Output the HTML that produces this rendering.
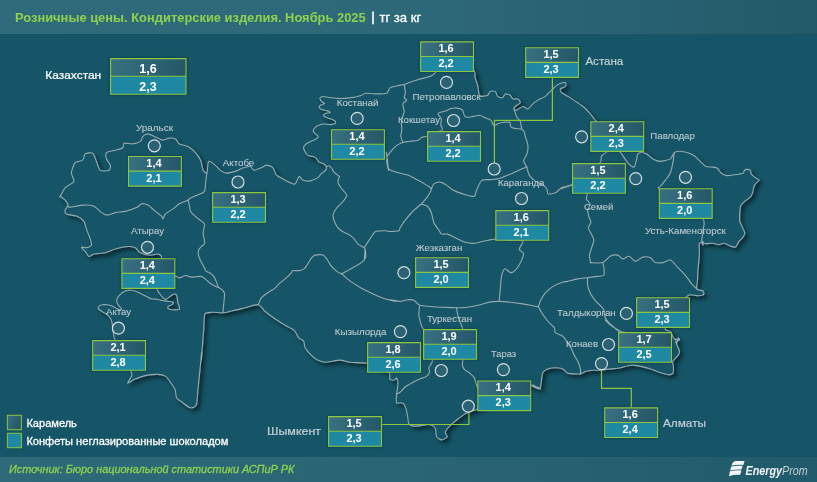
<!DOCTYPE html>
<html><head><meta charset="utf-8">
<style>
html,body{margin:0;padding:0;}
body{width:817px;height:482px;overflow:hidden;background:#155567;font-family:"Liberation Sans",sans-serif;position:relative;}
#hdr{position:absolute;left:0;top:0;width:817px;height:33.5px;background:linear-gradient(90deg,#306b7b 0%,#2d6878 55%,#235a6a 100%);}
#ftr{position:absolute;left:0;top:456.5px;width:817px;height:25.5px;background:linear-gradient(90deg,#2d6979 0%,#2a6575 50%,#215b6b 100%);}
svg{position:absolute;left:0;top:0;will-change:transform;}
</style></head><body>
<div id="hdr"></div><div id="ftr"></div>

<svg width="817" height="482" viewBox="0 0 817 482">
<defs><filter id="sh" x="-5%" y="-5%" width="112%" height="112%"><feGaussianBlur in="SourceAlpha" stdDeviation="2"/><feOffset dx="3" dy="3"/><feComponentTransfer><feFuncA type="linear" slope="0.5"/></feComponentTransfer><feMerge><feMergeNode/><feMergeNode in="SourceGraphic"/></feMerge></filter></defs>
<path d="M60.1 196.6C60.7 195.5 63.4 189.7 65.1 187.8C66.8 185.9 73.1 183.4 73.9 181.5C74.7 179.6 71.2 175.2 71.4 172.8C71.6 170.5 73.7 164.3 75.1 162.7C76.5 161.1 81.4 161.3 82.7 160.2C84.0 159.1 84.0 154.8 85.2 153.9C86.5 153.0 91.3 152.2 92.7 153.2C94.1 154.1 95.6 159.4 96.5 161.5C97.4 163.6 98.6 169.2 100.2 170.3C101.8 171.4 107.7 170.9 109 170.3C110.3 169.7 110.6 166.6 110.3 165.2C110.0 163.8 107.0 160.6 106.5 159C106.0 157.4 105.4 153.8 106.5 152.7C107.6 151.6 113.3 150.8 115.3 150.2C117.3 149.6 121.7 148.6 122.8 147.7C123.9 146.8 122.8 143.7 124.1 143.2C125.3 142.7 130.8 144.1 132.8 143.9C134.8 143.7 139.1 142.3 140.4 141.4C141.7 140.5 142.0 137.3 142.9 136.4C143.8 135.5 146.5 133.9 147.9 133.9C149.3 133.9 152.3 135.6 154.2 136.4C156.1 137.2 161.0 139.9 162.9 140.1C164.8 140.3 167.6 138.2 169.2 138.1C170.8 137.9 174.2 138.2 175.5 138.9C176.8 139.6 177.7 143.0 179.3 143.9C180.9 144.8 186.1 145.5 188 146.4C189.9 147.3 192.7 149.7 194.3 151.4C195.9 153.1 199.5 157.8 200.6 160.2C201.7 162.6 202.3 168.7 203.1 170.3C203.9 171.9 206.2 173.9 206.9 172.8C207.6 171.7 207.6 162.5 208.6 161.5C209.6 160.5 213.7 164.0 215.1 165.1C216.5 166.2 218.7 169.1 220.1 170.1C221.5 171.1 224.4 172.9 226.3 173.1C228.2 173.3 233.1 172.0 235.1 171.4C237.1 170.8 240.8 168.7 242.7 168.1C244.6 167.5 248.8 166.1 250.2 166.3C251.6 166.6 252.5 169.9 253.9 170.1C255.3 170.3 259.9 168.2 261.5 167.6C263.1 167.0 265.1 165.1 266.5 165.1C267.9 165.1 271.6 166.3 272.8 167.6C274.1 168.8 275.2 173.7 276.5 175.1C277.8 176.5 281.1 178.0 282.8 178.9C284.5 179.8 288.7 182.1 290.3 182.7C291.9 183.3 294.2 184.7 295.3 183.9C296.4 183.1 298.2 176.9 299.1 176.4C300.1 175.9 301.5 179.5 302.9 180.1C304.3 180.7 308.5 181.2 310.4 180.9C312.3 180.6 316.6 178.4 317.9 177.6C319.2 176.8 319.9 175.0 320.8 174.1C321.8 173.2 324.8 171.3 325.5 170.4C326.2 169.5 326.6 167.4 326.4 166.6C326.2 165.8 324.5 164.4 323.6 163.8C322.7 163.2 319.9 162.7 319 162C318.1 161.3 317.0 158.9 316.2 158.2C315.4 157.5 313.4 156.8 312.4 156.4C311.3 156.1 308.7 156.0 307.8 155.4C306.9 154.8 305.5 152.7 305 151.7C304.5 150.7 303.4 148.5 303.5 147.6C303.6 146.7 305.0 145.0 305.9 144.2C306.8 143.4 309.4 142.0 310.6 141.4C311.8 140.8 314.2 140.1 315.2 139.5C316.2 138.9 318.3 137.3 318.4 136.7C318.5 136.1 316.8 135.2 316.2 134.5C315.6 133.8 313.6 132.3 313.4 131.5C313.2 130.7 313.7 129.1 314.3 128.3C314.9 127.6 316.8 126.0 318 125.5C319.2 125.0 322.1 124.1 323.6 124C325.1 123.9 328.7 124.7 330.2 124.6C331.7 124.5 334.8 123.8 335.4 123.3C336.0 122.8 335.4 121.3 334.9 120.8C334.4 120.3 332.3 119.5 331.1 119C329.9 118.5 326.5 117.6 325.5 117.1C324.5 116.6 323.3 115.7 323.3 115.2C323.3 114.7 324.6 113.8 325.5 113.4C326.4 113.1 330.0 112.7 330.2 112.4C330.4 112.1 328.4 111.2 327.4 110.9C326.3 110.6 322.9 110.1 321.8 109.6C320.8 109.1 319.1 107.8 319 107.2C318.9 106.6 320.1 105.5 320.8 105C321.5 104.5 324.5 103.9 324.6 103.5C324.7 103.1 322.4 102.2 321.8 101.6C321.2 101.0 319.8 99.0 319.9 98.4C320.0 97.8 321.5 96.6 322.7 96.5C323.9 96.4 327.3 97.3 329.3 97.5C331.3 97.7 336.0 98.4 338.6 98.4C341.2 98.5 347.0 98.2 349.8 97.9C352.6 97.6 359.1 96.2 361 95.6C362.9 95.0 363.5 93.4 365.3 93.2C367.1 93.0 372.6 93.9 375.3 93.9C378.0 93.9 384.7 94.0 386.6 93.2C388.5 92.4 388.7 88.6 390.4 87.6C392.1 86.6 398.7 85.5 400.4 85.1C402.1 84.7 403.1 84.9 404.2 84.6C405.3 84.3 407.2 83.3 409.2 82.6C411.2 81.9 417.8 79.7 420.5 78.9C423.2 78.1 428.6 77.1 430.5 76.3C432.4 75.5 434.2 74.0 435.5 72.6C436.8 71.2 436.8 66.4 440.6 65.1C444.4 63.8 461.4 61.7 465.6 62.5C469.8 63.3 473.2 69.4 474.4 71.3C475.6 73.2 474.7 75.9 475.1 77.6C475.5 79.3 477.1 83.1 477.6 85.1C478.1 87.1 478.6 92.5 478.9 93.9C479.2 95.3 479.0 96.2 480.1 96.4C481.2 96.6 486.4 95.8 487.6 95.2C488.9 94.6 489.2 91.9 490.1 91.4C491.1 90.9 494.2 90.8 495.2 91.4C496.1 92.0 496.8 95.6 497.7 96.4C498.6 97.2 501.8 98.0 502.7 97.7C503.6 97.4 504.3 94.2 505.2 93.9C506.1 93.6 509.3 94.6 510.2 95.2C511.1 95.8 511.8 98.4 512.7 98.9C513.6 99.4 516.8 98.4 517.7 98.9C518.7 99.4 520.6 101.8 520.3 102.7C520.0 103.7 516.0 105.7 515.2 106.5C514.4 107.3 513.8 108.5 514 109C514.2 109.5 515.4 110.5 516.5 110.2C517.6 109.9 521.4 106.7 522.8 106.5C524.2 106.3 526.5 109.3 527.8 109C529.0 108.7 531.5 105.0 532.8 103.9C534.0 102.8 536.2 101.1 537.8 100.2C539.4 99.3 543.7 97.5 545.3 96.4C546.9 95.3 549.1 92.7 550.4 91.4C551.7 90.2 554.3 87.3 555.4 86.4C556.5 85.5 557.9 84.4 559.1 83.9C560.4 83.4 564.6 82.3 565.4 82.6C566.2 82.9 566.0 85.6 565.4 86.4C564.8 87.2 560.9 88.1 560.4 88.9C559.9 89.7 560.8 91.8 561.7 92.7C562.6 93.6 566.2 95.3 567.9 96.4C569.6 97.5 573.6 100.1 575.5 101.4C577.4 102.7 581.3 105.1 583 106.5C584.7 107.9 587.9 111.1 589.3 112.7C590.7 114.3 593.4 117.9 594.3 119C595.2 120.1 594.8 120.1 596.8 121.5C598.8 122.9 605.2 127.7 610 130C614.8 132.3 630.9 137.2 635 140C639.1 142.8 641.3 150.4 642.8 152.1C644.2 153.8 645.4 153.0 646.6 153.8C647.9 154.7 651.1 158.0 652.8 158.9C654.5 159.8 658.2 161.4 660.4 161.4C662.6 161.4 668.7 160.0 670.4 158.9C672.1 157.8 673.0 153.5 674.2 152.6C675.5 151.7 678.4 151.2 680.4 151.3C682.4 151.4 688.1 152.7 690 153.4C691.9 154.1 694.3 155.7 695.7 156.8C697.1 158.0 700.1 161.4 701.4 162.6C702.7 163.8 704.6 165.8 706 166.4C707.4 167.0 711.4 166.9 712.8 167.1C714.2 167.3 716.4 167.6 717.4 168.3C718.4 169.0 719.7 171.9 720.8 172.8C721.9 173.7 724.6 175.4 726.5 175.6C728.4 175.8 733.6 175.0 735.7 174.7C737.8 174.4 741.9 173.8 743 173.3C744.1 172.8 743.8 171.0 744.3 170.5C744.8 170.0 746.2 169.4 747 169.4C747.8 169.4 750.0 169.9 750.5 170.5C751.0 171.1 750.6 173.1 751.2 174C751.8 174.9 754.0 176.6 755 177.4C756.0 178.2 759.1 179.4 759.2 180.1C759.4 180.8 756.9 182.3 756.2 183.1C755.5 183.9 754.3 185.4 753.9 186.5C753.5 187.6 753.2 190.9 752.8 192.2C752.4 193.5 751.5 195.7 750.5 196.8C749.5 198.0 746.0 200.3 744.8 201.4C743.6 202.5 741.3 204.6 740.7 205.9C740.1 207.2 739.9 209.7 739.8 211.6C739.7 213.5 739.5 218.8 739.8 220.8C740.1 222.8 741.9 226.0 742.5 227.6C743.1 229.2 744.8 232.0 744.8 233.3C744.8 234.6 743.2 236.9 742.5 237.9C741.8 238.9 739.9 240.2 739 241.3C738.1 242.4 736.8 246.4 735.7 247C734.6 247.6 731.4 246.4 730 245.9C728.6 245.4 725.6 243.3 724.2 243.2C722.8 243.0 719.9 244.7 718.5 244.7C717.1 244.7 714.4 243.3 712.8 243.2C711.2 243.1 707.4 243.7 706 243.6C704.6 243.5 702.2 242.5 701.4 242.5C700.6 242.5 699.6 242.2 699.3 243.8C699.0 245.4 699.5 251.8 699.3 255.1C699.1 258.4 698.2 267.0 698 270.1C697.8 273.2 697.6 277.8 697.5 280.2C697.4 282.6 696.1 287.6 696.8 289C697.5 290.4 702.2 290.3 703 291C703.8 291.7 704.1 294.1 703.5 294.7C702.9 295.3 699.6 295.7 698 295.7C696.4 295.7 691.9 294.6 690.5 294.7C689.1 294.8 688.3 295.2 686.7 296.5C685.1 297.8 680.6 301.4 677.9 305.3C675.2 309.2 666.3 324.6 665.4 327.9C664.5 331.2 669.3 330.2 670.4 331.6C671.5 333.0 673.3 338.2 674.2 339.1C675.1 340.0 677.6 338.6 677.9 339.1C678.2 339.6 676.7 343.0 676.7 342.9C676.7 342.8 677.9 338.5 678.2 338.1C678.6 337.8 679.8 339.7 679.5 340.1C679.2 340.5 676.0 340.7 675.7 341.3C675.4 341.9 676.5 343.8 677 345.1C677.5 346.4 679.4 350.1 679.5 351.4C679.6 352.6 679.1 353.9 678.2 355.1C677.4 356.4 673.3 360.1 672.7 361.4C672.1 362.7 673.1 363.8 673.2 365.2C673.3 366.6 673.8 371.5 673.2 372.7C672.6 373.9 669.8 374.7 668.2 374.7C666.6 374.7 662.9 373.4 660.7 372.7C658.5 372.0 653.1 369.7 650.6 368.9C648.1 368.1 643.1 366.9 640.6 366.4C638.1 365.9 633.1 365.0 630.6 365.2C628.1 365.4 623.0 367.2 620.5 367.7C618.0 368.2 613.0 368.6 610.5 368.9C608.0 369.2 602.6 370.0 600.4 370.2C598.2 370.4 594.8 370.1 592.9 370.2C591.0 370.3 587.0 370.9 585.4 371.4C583.8 371.9 581.7 373.6 580.4 373.9C579.1 374.2 576.9 374.0 575.3 373.9C573.7 373.8 569.4 373.8 567.8 373.2C566.2 372.6 564.4 369.6 562.8 368.9C561.2 368.2 557.2 367.7 555.3 367.7C553.4 367.7 549.3 368.3 547.7 368.9C546.1 369.5 543.5 371.3 542.7 372.7C541.9 374.1 541.8 378.2 541.5 380.2C541.2 382.2 540.5 388.1 540.2 389C539.9 389.9 540.1 388.1 539 387.7C537.9 387.3 531.4 385.6 531.4 385.7C531.4 385.8 538.1 388.7 538.6 388.8C539.1 388.9 536.1 386.6 535.1 386.2C534.1 385.8 534.6 384.2 530.8 385.3C527.0 386.4 511.3 391.9 504.6 394.9C497.9 397.9 481.1 407.2 477.2 409.2C473.3 411.2 474.3 410.2 473.2 410.6C472.1 411.0 469.2 411.8 468 412.3C466.8 412.8 464.9 414.0 463.6 414.9C462.3 415.8 458.9 418.2 457.5 419.3C456.1 420.4 453.5 422.5 452.3 423.6C451.1 424.7 448.8 426.9 447.9 428C447.0 429.1 445.4 431.3 445.3 432.4C445.2 433.5 447.5 435.8 447.1 436.7C446.7 437.6 443.1 439.9 441.8 439.9C440.5 439.9 437.4 438.0 436.6 436.7C435.8 435.4 436.1 431.1 435.7 429.7C435.3 428.3 434.1 426.5 433.1 425.9C432.1 425.2 429.6 424.5 427.9 424.5C426.2 424.5 421.2 425.7 419.2 425.9C417.2 426.1 413.5 426.2 412.2 425.9C410.9 425.6 409.2 424.7 408.7 423.6C408.1 422.6 408.1 419.4 407.8 417.5C407.5 415.6 406.6 410.5 406.1 408.8C405.6 407.1 404.3 404.4 403.5 403.6C402.7 402.8 400.9 402.8 400 402.7C399.1 402.6 397.0 403.9 396.6 402.8C396.2 401.7 396.4 396.2 396.6 394C396.8 391.8 397.9 387.2 397.9 385.2C397.9 383.2 397.1 378.8 396.6 378.2C396.1 377.6 395.0 380.1 394.1 380.2C393.2 380.3 390.4 379.9 389.8 379C389.2 378.1 390.9 374.3 389.1 372.7C387.3 371.1 378.0 367.6 375.3 366.4C372.6 365.2 370.3 363.7 367.2 363.2C364.1 362.7 353.6 362.6 350.2 362.2C346.8 361.8 343.2 360.1 340.1 360.1C337.0 360.1 327.9 362.2 325.1 362.2C322.3 362.2 319.5 361.1 317.6 360.1C315.7 359.1 311.6 355.5 310 353.9C308.4 352.3 305.8 349.2 305 347.6C304.2 346.0 304.4 342.4 303.8 341.3C303.2 340.2 300.7 339.4 300 338.8C299.3 338.2 298.6 337.7 297.9 336.6C297.2 335.5 295.7 331.7 294.1 330.3C292.5 328.9 287.7 326.7 285.3 325.3C282.9 323.9 277.8 320.7 275.3 319C272.8 317.3 267.3 313.3 265.2 311.5C263.1 309.7 260.7 305.2 258.2 304.7C255.7 304.2 248.4 306.9 245.2 307.7C242.0 308.5 235.4 310.2 232.6 310.8C229.8 311.4 225.6 312.6 223.1 312.8C220.6 313.0 214.8 312.2 212.5 312.3C210.2 312.4 206.1 312.1 205 314C203.9 315.9 204.1 323.9 203.8 327.8C203.5 331.7 202.8 341.4 202.5 345.4C202.2 349.4 201.4 359.0 201.3 359.9C201.2 360.8 201.8 351.2 201.6 352.5C201.4 353.8 200.4 365.4 199.9 370.1C199.4 374.8 198.3 386.0 197.9 390.2C197.5 394.4 197.1 401.9 196.6 404C196.1 406.1 195.0 406.8 194.1 407.2C193.2 407.6 190.5 407.8 189.1 407.2C187.7 406.6 184.4 403.9 182.8 402.7C181.2 401.5 177.4 399.3 176.5 397.7C175.6 396.1 176.0 392.1 175.3 390.2C174.6 388.3 172.0 384.4 170.8 382.7C169.6 381.0 167.3 377.4 165.7 376.4C164.1 375.4 160.3 374.5 157.7 374.4C155.1 374.3 148.2 375.0 145.2 375.6C142.2 376.2 136.1 378.7 133.9 379.6C131.7 380.6 127.9 383.6 127.6 383.2C127.3 382.8 131.0 378.0 131.4 376.4C131.8 374.8 132.7 375.2 130.6 370.6C128.5 366.0 117.0 344.0 114.9 339.5C112.8 335.0 113.9 336.0 113.7 334.8C113.5 333.6 113.2 331.1 113 329.8C112.8 328.6 112.6 326.0 112.4 324.8C112.2 323.6 111.6 320.9 111.2 319.9C110.8 318.9 109.8 317.4 109.3 316.7C108.8 316.0 107.5 314.7 106.8 314.2C106.1 313.7 104.5 313.1 103.7 312.6C102.9 312.1 101.3 311.1 100.6 310.5C99.9 309.9 98.3 308.6 98.1 308C97.9 307.4 98.8 306.3 99.3 305.9C99.8 305.5 101.6 304.8 102.5 304.7C103.4 304.6 105.8 304.6 106.8 304.7C107.8 304.8 109.6 305.2 110.5 305.5C111.4 305.8 113.0 306.4 113.7 306.8C114.4 307.2 115.5 308.0 116.2 308.4C116.9 308.8 118.6 309.5 119.3 309.6C120.0 309.7 121.7 309.7 121.8 309.3C121.9 308.9 120.5 307.5 119.9 306.8C119.4 306.1 117.8 304.5 117.4 303.7C117.0 302.9 116.7 301.4 116.8 300.5C116.9 299.6 117.5 297.6 118 296.8C118.5 296.0 119.8 294.9 120.5 294.3C121.2 293.7 122.8 292.3 123.6 291.8C124.4 291.3 125.8 290.8 126.7 290.6C127.6 290.4 130.1 290.1 131.1 290.2C132.1 290.2 133.7 290.6 134.8 291C135.9 291.4 138.4 292.5 139.8 293.1C141.2 293.8 144.6 295.5 146 296.2C147.4 296.9 149.6 298.3 151 298.7C152.4 299.1 155.8 299.1 157.2 299.3C158.6 299.5 160.9 300.3 162.2 300.5C163.4 300.7 165.9 301.0 167.2 301.2C168.4 301.4 171.4 301.6 172.2 301.8C173.0 302.0 173.5 302.6 173.4 303C173.3 303.4 172.2 304.5 171.6 304.9C171.0 305.3 169.0 305.8 168.5 306.2C168.0 306.6 167.7 307.6 167.8 308C168.0 308.4 168.8 309.1 169.7 309.3C170.6 309.5 173.5 309.9 174.7 309.9C175.9 309.9 178.4 310.0 179 309.6C179.6 309.2 179.6 307.7 179.4 306.8C179.2 305.9 178.1 303.6 177.8 302.4C177.5 301.2 177.4 298.4 177.2 297.4C177.0 296.4 176.4 294.7 175.9 294.3C175.4 293.9 174.2 294.0 173.4 294.3C172.6 294.6 170.6 296.2 169.7 296.8C168.8 297.4 166.8 299.1 166 299.3C165.2 299.5 164.3 298.8 163.5 298.1C162.7 297.4 160.5 294.8 159.7 293.7C158.9 292.6 157.4 291.6 157.2 289.3C157.0 287.0 157.4 278.9 158 275C158.6 271.1 161.7 260.4 161.7 257.8C161.7 255.2 159.3 254.3 157.9 254C156.5 253.7 152.6 255.5 150.4 255.3C148.2 255.2 142.3 253.8 140.4 252.8C138.5 251.9 136.9 248.5 135.3 247.7C133.7 246.9 130.3 246.3 127.8 246.5C125.3 246.7 118.1 248.2 115.3 249C112.5 249.8 107.9 252.2 105.2 252.8C102.5 253.4 95.9 253.5 93.9 254C91.9 254.5 90.0 256.8 88.9 256.5C87.8 256.2 86.1 252.7 85.2 251.5C84.3 250.3 81.2 247.7 81.4 247.2C81.6 246.7 85.2 247.9 86.4 247.7C87.7 247.4 90.9 246.3 91.4 245.2C91.9 244.1 90.8 241.0 90.2 239C89.6 237.0 87.2 231.1 86.4 228.9C85.6 226.7 85.0 223.0 83.9 221.4C82.8 219.8 79.8 217.3 77.6 216.4C75.4 215.5 67.9 214.7 66.3 213.9C64.7 213.1 64.9 211.2 65.1 210.1C65.3 209.0 68.1 206.3 68.1 205.1C68.1 203.8 66.1 201.2 65.1 200.1C64.1 199.0 60.7 196.7 60.1 196.3C59.5 195.9 59.5 197.7 60.1 196.6Z" fill="#155567" stroke="#97aaaf" stroke-width="1.1" stroke-linejoin="round" filter="url(#sh)"/>
<g fill="none" stroke="#97aaaf" stroke-width="1.1" stroke-linejoin="round" stroke-linecap="round">
<path d="M68.1 206.3C68.3 206.4 68.1 207.2 70.1 207.1C72.1 206.9 80.9 205.2 83.9 205.1C86.9 205.0 91.7 205.4 93.9 206.3C96.1 207.2 99.8 211.5 101.5 212.6C103.2 213.7 106.0 215.1 107.7 215.1C109.4 215.1 113.1 213.1 115.3 212.6C117.5 212.1 122.6 212.0 125.3 211.4C128.0 210.8 134.6 208.5 136.6 207.6C138.6 206.7 140.2 204.1 141.6 203.8C143.0 203.5 146.2 204.2 147.9 205.1C149.6 206.0 153.7 210.0 155.4 211.4C157.1 212.8 160.8 215.5 161.7 216.4C162.6 217.3 162.4 219.2 162.9 218.9C163.4 218.6 164.2 215.2 165.5 213.9C166.8 212.7 171.3 210.2 173 208.9C174.7 207.6 177.4 204.9 179.3 203.8C181.2 202.7 186.9 200.6 188 200.1"/>
<path d="M206.9 172.8C206.7 174.1 205.9 180.5 205.6 182.8C205.3 185.2 205.3 190.1 204.4 191.6C203.5 193.1 199.8 194.0 198.1 194.8C196.4 195.6 191.9 197.2 190.6 197.9C189.3 198.6 188.3 200.1 188 200.4"/>
<path d="M188 200.4C188.2 201.0 189.0 203.7 189.3 205.1C189.6 206.5 189.7 209.8 190.6 211.4C191.5 213.0 195.1 216.0 196.8 217.6C198.5 219.2 203.6 222.0 204.4 223.9C205.2 225.8 203.1 230.7 203.1 232.7C203.1 234.7 204.3 239.3 204.4 240.2C204.5 241.1 204.2 239.6 204.2 240C204.2 240.4 205.0 242.8 204.6 243.7C204.2 244.5 201.8 246.0 201.1 246.8C200.3 247.6 198.9 249.0 198.6 250C198.3 251.0 198.2 253.6 198.4 254.9C198.6 256.2 199.8 259.1 200.5 260.5C201.2 261.9 202.9 264.9 203.6 266.2C204.3 267.5 205.3 270.2 206.1 271.1C206.9 272.0 209.0 272.4 209.9 273C210.8 273.6 212.8 275.1 213.6 276.1C214.4 277.1 215.5 279.7 216.1 281.1C216.7 282.5 217.8 286.2 218.6 287.3C219.4 288.4 221.6 289.0 222.3 289.8C223.0 290.6 224.3 292.3 224.5 293.5C224.7 294.7 224.3 297.9 224.2 299.5C224.1 301.1 223.7 304.3 223.5 306C223.3 307.7 223.1 311.9 223 312.8"/>
<path d="M160 280C161.9 279.5 172.7 276.4 175 276.1C177.3 275.9 177.8 277.9 178.7 278C179.6 278.1 181.6 277.0 182.5 276.7C183.4 276.4 185.1 275.4 186.2 275.5C187.3 275.6 189.9 277.0 191.2 277.1C192.4 277.2 195.0 276.8 196.2 276.7C197.4 276.6 200.0 276.2 201.1 276.4C202.2 276.6 203.8 277.8 204.9 278.6C206.0 279.4 208.7 282.1 209.9 283C211.1 283.9 213.7 285.5 214.8 286.1C215.9 286.7 218.1 287.4 218.6 287.6"/>
<path d="M326.4 166.6C326.8 166.5 328.5 165.5 329.2 165.7C329.9 165.9 331.4 167.7 332 168.5C332.6 169.3 333.1 171.2 334 172.2C334.9 173.2 338.6 175.9 339.3 176.4C340.0 176.9 339.5 175.6 339.3 176.4C339.1 177.2 337.7 181.1 338 182.7C338.3 184.3 340.7 187.3 341.8 188.9C342.9 190.5 346.7 193.6 346.8 195.2C346.9 196.8 344.2 199.9 343 201.5C341.8 203.1 338.1 206.0 336.8 207.7C335.6 209.4 333.2 213.2 333 215.3C332.8 217.4 334.6 222.2 335.5 224.1C336.4 226.0 338.9 229.1 340.5 230.3C342.1 231.6 346.4 233.2 348 234.1C349.6 235.0 351.8 236.7 353.1 237.9C354.4 239.2 356.7 242.8 358.1 244.1C359.5 245.3 363.5 246.8 364.4 247.9C365.3 249.0 365.6 251.4 365.6 252.9C365.6 254.4 364.5 260.4 364.4 259.9C364.3 259.4 365.0 249.1 365.1 248.8C365.2 248.5 366.2 255.8 365.6 257.6C365.0 259.4 362.5 261.7 360.6 263.1C358.7 264.5 353.0 267.5 350.6 268.9C348.2 270.2 342.9 273.3 341.8 273.9"/>
<path d="M364.4 247.4C365.2 246.2 369.2 239.9 370.6 237.9C372.0 235.9 373.7 232.5 375.6 231.6C377.5 230.7 383.9 230.8 385.7 230.8C387.5 230.8 388.4 231.5 390 231.5C391.6 231.5 397.5 231.3 398.8 230.8C400.1 230.3 399.3 229.1 400.1 227.8C400.9 226.5 403.5 222.3 405.1 220.3C406.7 218.3 410.6 213.6 412.6 211.5C414.6 209.4 420.3 204.8 421.4 203.9"/>
<path d="M258.2 304.7C258.6 303.8 260.3 299.2 261.5 297.7C262.7 296.2 266.1 293.8 267.7 292.7C269.3 291.6 272.4 290.1 274 288.9C275.6 287.6 278.7 284.1 280.3 282.7C281.9 281.3 285.2 278.9 286.6 277.6C288.0 276.3 290.8 273.5 291.6 272.6C292.4 271.7 291.9 270.9 292.8 270.6C293.7 270.4 297.7 270.8 299.1 270.6C300.5 270.4 303.0 269.8 304.1 268.9C305.2 268.0 306.9 265.2 307.9 263.8C308.8 262.4 310.8 258.7 311.7 257.6C312.6 256.5 314.0 255.4 315.4 255.1C316.8 254.8 321.5 254.6 322.9 255.1C324.3 255.6 325.8 257.6 326.7 258.8C327.6 260.1 329.2 263.5 330.5 265.1C331.8 266.7 335.4 270.3 336.8 271.4C338.2 272.5 341.2 273.6 341.8 273.9"/>
<path d="M341.8 273.9C342.9 274.8 348.2 279.7 350.6 281.4C353.0 283.1 357.8 286.1 360.6 287.7C363.4 289.3 370.0 292.5 373.1 293.9C376.2 295.3 382.9 298.1 385.7 299C388.5 299.9 395.2 301.4 395.7 301.5C396.2 301.6 389.4 299.7 390 299.7C390.6 299.7 397.9 301.4 400.1 301.4C402.3 301.4 405.9 299.8 407.6 299.7C409.3 299.6 412.4 299.5 413.9 300.2C415.4 300.9 417.6 304.4 419.6 305.2C421.6 306.0 427.3 306.2 430.2 306.5C433.1 306.8 439.4 307.1 442.7 307.2C446.0 307.3 453.4 307.7 456.5 307.7C459.6 307.7 464.8 307.6 467.8 307.2C470.8 306.8 477.6 305.4 480.4 304.7C483.2 304.0 488.0 302.3 490.4 301.9C492.8 301.5 496.7 301.4 499.2 301.4C501.7 301.4 507.5 301.9 510.5 302.2C513.5 302.5 520.2 303.5 523 303.9C525.8 304.3 531.2 305.4 533.1 305.7C535.0 306.0 537.2 307.2 538.1 306.5C539.0 305.8 539.7 301.9 540.6 300.2C541.5 298.5 544.0 294.4 545.6 292.7C547.2 291.0 550.9 287.7 553.1 286.4C555.3 285.1 561.4 282.7 563.2 282.1C565.0 281.5 565.7 281.8 567.5 281.4C569.3 281.0 575.1 279.4 577.6 278.9C580.1 278.4 585.1 278.0 587.6 277.7C590.1 277.4 595.6 276.7 597.6 276.4C599.6 276.1 603.1 276.3 603.9 275.2C604.7 274.1 604.0 269.2 603.9 267.6C603.8 266.0 602.9 263.2 602.7 262.6"/>
<path d="M419.6 305.2C419.5 306.4 418.7 312.7 418.9 315.2C419.1 317.7 420.8 323.4 421.4 325.3C422.0 327.2 422.8 327.8 423.9 330.3C425.0 332.8 428.9 341.3 430 345C431.1 348.7 432.1 357.7 432.3 360C432.5 362.3 431.8 362.5 431.4 363.5C431.0 364.5 429.0 366.7 428.8 367.8C428.6 368.9 429.9 371.1 429.6 372.2C429.3 373.3 427.5 375.7 426.2 376.6C424.9 377.5 420.9 378.4 419.2 379.2C417.4 380.0 413.9 381.7 412.2 382.7C410.4 383.7 406.7 385.8 405.2 387C403.7 388.2 401.1 391.4 400 392.3C398.9 393.2 397.0 393.8 396.6 394"/>
<path d="M456.5 307.7C456.7 308.6 457.2 313.0 457.8 315.2C458.4 317.4 460.9 323.5 461.5 325.3C462.1 327.1 462.6 327.3 462.8 329.8C463.0 332.3 463.0 341.2 463 345C463.0 348.8 462.9 357.5 462.8 360C462.7 362.5 462.2 364.0 462.4 365.2C462.6 366.4 463.6 368.6 464.5 369.6C465.4 370.6 468.5 372.1 469.7 373.1C470.9 374.1 473.3 376.2 474.1 377.4C474.9 378.6 475.4 381.5 475.8 382.7C476.2 383.9 476.4 385.5 477.2 387C478.0 388.5 481.3 393.9 481.9 394.9"/>
<path d="M538.1 306.5C538.6 307.3 540.5 310.8 541.8 312.7C543.0 314.6 546.5 319.6 548.1 321.5C549.7 323.4 553.5 326.4 554.4 327.8C555.3 329.2 554.2 331.4 555.3 332.5C556.3 333.6 561.4 335.2 562.8 336.3C564.2 337.4 565.5 339.7 566.6 341.3C567.7 342.9 570.7 347.2 571.6 348.9C572.5 350.6 573.3 353.5 574.1 355.1C574.9 356.7 577.1 359.7 577.9 361.4C578.7 363.1 580.1 367.3 580.4 368.9C580.7 370.5 580.4 373.3 580.4 373.9"/>
<path d="M587.6 277.7C587.6 278.6 587.3 283.3 587.6 285.2C587.9 287.1 589.2 290.8 590.1 292.7C591.0 294.6 593.9 298.7 595.1 300.3C596.4 301.9 599.0 304.1 600.1 305.3C601.2 306.6 603.3 308.7 603.9 310.3C604.5 311.9 604.4 316.1 605.2 317.8C606.0 319.5 608.8 322.7 610.2 324.1C611.6 325.5 615.4 328.2 616.5 329.1C617.6 330.0 620.4 332.7 619 331.6C617.6 330.5 606.6 320.8 605.5 320C604.4 319.2 608.9 323.8 610.5 325C612.1 326.2 616.4 329.1 618 330C619.6 330.9 620.7 331.4 623.5 332C626.3 332.6 638.5 334.7 640.6 335.1"/>
<path d="M590.1 262.6C591.7 262.6 600.2 263.4 602.7 262.6C605.2 261.8 608.3 257.2 610.2 256.3C612.1 255.4 616.1 254.8 617.7 255.1C619.3 255.4 621.3 258.8 622.7 258.9C624.1 259.0 627.4 256.0 629 256.3C630.6 256.6 633.6 261.3 635.3 261.4C637.0 261.5 640.9 257.6 642.8 257.1C644.7 256.6 648.7 256.9 650.3 257.6C651.9 258.3 653.7 262.0 655.3 262.6C656.9 263.2 661.0 262.9 662.9 262.6C664.8 262.3 668.5 259.5 670.4 260.1C672.3 260.7 676.3 266.0 677.9 267.6C679.5 269.2 681.6 271.3 682.9 272.7C684.2 274.1 686.9 277.5 688 278.9C689.1 280.3 690.6 282.6 691.7 283.9C692.8 285.2 696.2 288.4 696.8 289"/>
<path d="M572.5 183.9C573.8 184.5 580.8 187.7 582.6 189C584.4 190.3 586.6 192.8 587.1 194C587.6 195.2 585.9 197.8 586.3 199C586.7 200.2 589.9 202.6 590.1 204C590.3 205.4 587.7 208.6 587.6 210.2C587.5 211.8 588.6 215.5 589 217C589.4 218.5 591.1 221.0 591 222.3C590.9 223.6 588.3 226.2 588.4 227.7C588.5 229.2 590.9 233.0 591.6 234.5C592.3 236.0 593.8 238.2 593.8 239.9C593.8 241.6 592.1 246.2 591.6 248C591.1 249.8 589.7 253.0 589.5 254.7C589.3 256.4 590.1 260.4 590.3 261.4C590.5 262.4 591.3 262.5 591.4 262.6"/>
<path d="M526.8 167.1C527.1 168.1 528.2 173.3 529.3 175.1C530.4 176.9 533.9 180.2 535.6 181.4C537.3 182.7 541.7 184.2 543.1 185.1C544.5 186.0 546.3 187.8 546.9 188.9C547.5 190.0 547.0 193.4 548.1 193.9C549.2 194.4 553.9 193.5 555.6 192.7C557.3 191.9 559.9 188.5 561.9 187.6C563.9 186.7 572.2 184.9 572 185.1C571.8 185.3 560.6 188.8 560 189C559.4 189.2 565.9 187.1 567.5 186.5C569.1 185.9 571.9 184.2 572.5 183.9"/>
<path d="M572.5 183.9C574.1 182.5 581.6 175.4 585.1 172.7C588.6 170.0 598.1 164.6 600.1 162.6C602.1 160.6 600.6 157.6 601.4 156.3C602.2 155.0 604.8 153.2 606.4 152.1C608.0 151.0 612.2 147.6 613.9 147.6C615.6 147.6 618.5 150.2 620.2 152.1C621.9 154.0 626.0 160.7 627.7 162.6C629.4 164.5 632.9 167.4 634 167.1C635.1 166.8 636.0 161.8 636.5 160.1C637.0 158.4 637.0 154.8 637.8 153.8C638.6 152.8 642.2 152.3 642.8 152.1"/>
<path d="M674.2 152.6C674.0 153.8 673.4 160.1 672.9 162.6C672.4 165.1 671.3 170.5 670.4 172.7C669.5 174.9 666.6 178.5 665.4 180.2C664.1 181.9 661.2 185.4 660.4 186.5C659.6 187.6 656.6 186.7 659.1 189C661.6 191.3 674.9 201.5 680.4 205.3C685.9 209.1 700.2 216.0 703 219.1C705.8 222.2 703.1 227.7 703 230.4C702.9 233.1 701.8 238.5 701.8 240.4C701.8 242.3 702.9 245.3 703 245.4C703.1 245.5 703.0 241.8 703 241.3"/>
<path d="M514 109C514.3 109.9 515.7 114.9 516.5 116.5C517.3 118.1 519.6 120.0 520.3 121.5C520.9 123.0 521.2 127.4 521.7 128.7C522.2 130.0 523.7 130.7 524.2 131.8C524.7 132.9 525.1 136.1 525.5 137.4C525.9 138.7 527.0 141.2 527.3 142.4C527.6 143.7 528.0 146.1 528 147.4C528.0 148.7 527.6 151.8 527.3 153C527.0 154.2 526.0 155.8 525.5 156.7C525.0 157.6 523.7 159.6 523.6 160.5C523.5 161.4 524.4 162.8 524.8 163.6C525.2 164.4 526.5 166.7 526.7 167.1"/>
<path d="M402.8 142.3C403.7 142.2 407.9 141.6 409.8 141.3C411.7 141.1 416.5 140.8 418 140.3C419.5 139.8 420.8 137.8 422 137.3C423.2 136.8 425.6 137.0 427.4 136.3C429.1 135.6 434.1 132.8 436 132C437.9 131.2 441.8 130.9 442.4 130C443.0 129.1 440.9 126.0 440.8 124.6C440.7 123.2 441.7 120.4 441.3 119.1C440.9 117.8 438.2 115.0 438 114.2C437.8 113.4 438.7 112.9 439.7 112.5C440.7 112.1 444.4 111.4 445.7 110.9C447.0 110.4 448.8 109.1 450.2 108.7C451.6 108.3 455.3 108.0 456.8 108.1C458.3 108.2 461.5 109.2 462.3 109.8C463.1 110.3 463.1 111.8 463.4 112.5C463.7 113.2 463.9 115.2 464.5 115.8C465.1 116.4 466.7 117.4 467.8 117.5C468.9 117.6 471.8 116.7 473.3 116.4C474.8 116.1 478.5 115.2 479.9 115.3C481.3 115.4 483.2 117.0 484.3 117.5C485.4 118.0 487.8 118.7 488.7 119.1C489.6 119.5 491.0 120.3 491.5 121C492.0 121.7 492.5 124.0 493 124.5C493.5 125.0 494.7 125.2 495.6 125C496.5 124.8 498.8 123.3 500 123C501.2 122.7 503.8 122.3 505 122.2C506.2 122.1 509.3 122.0 510 122.5C510.7 123.0 510.1 125.5 510.5 126.2C510.9 126.9 512.1 127.7 513 128C513.9 128.3 516.3 128.6 517.4 128.7C518.5 128.8 521.2 129.0 521.7 129"/>
<path d="M404.2 84.6C404.3 85.6 405.4 91.1 405.4 92.7C405.4 94.3 404.0 96.8 404.2 97.7C404.4 98.6 406.9 99.4 406.7 100.2C406.5 101.0 403.2 102.5 402.9 103.9C402.6 105.3 404.2 110.0 404.2 111.5C404.2 113.0 403.2 114.6 402.8 116C402.4 117.4 401.5 121.2 401.4 123C401.3 124.8 401.9 128.5 401.8 130.2C401.7 131.9 400.7 134.8 400.8 136.3C400.9 137.8 402.6 141.6 402.8 142.3"/>
<path d="M402.8 142.3C402.0 142.7 398.1 144.4 396.7 145.4C395.3 146.4 392.8 149.1 391.7 150.4C390.6 151.7 388.2 154.2 387.6 155.5C387.0 156.8 386.6 159.1 386.6 160.5C386.6 161.9 387.4 165.4 387.6 166.6C387.9 167.8 388.8 171.8 388.6 170C388.4 168.2 386.4 153.8 386.3 152.5C386.2 151.2 387.2 158.0 387.5 160C387.8 162.0 387.5 167.2 388.8 168.8C390.1 170.4 395.2 171.8 397.6 172.6C400.0 173.4 405.1 174.2 407.6 175.1C410.1 176.0 415.2 178.8 417.6 180.1C420.0 181.3 424.7 184.0 426.4 185.1C428.1 186.2 431.2 187.5 431.4 188.9C431.6 190.3 428.9 194.5 427.7 196.4C426.4 198.3 422.2 203.0 421.4 203.9"/>
<path d="M431.4 188.9C431.7 188.3 432.8 184.8 433.9 183.9C435.0 183.1 438.6 181.9 440.2 182.1C441.8 182.2 444.9 184.1 446.5 185.1C448.1 186.1 450.8 189.0 452.8 190.1C454.8 191.2 460.1 193.1 462.8 193.9C465.5 194.7 472.4 196.9 474.1 196.4C475.8 195.9 475.7 192.1 476.6 190.1C477.5 188.1 479.9 181.9 481.6 180.6C483.3 179.3 488.4 179.8 490.4 179.6C492.4 179.4 495.7 179.5 497.9 178.9C500.1 178.3 505.6 176.0 508 175.1C510.4 174.2 514.4 172.3 516.8 171.3C519.1 170.3 525.5 167.6 526.8 167.1"/>
<path d="M421.4 203.9C422.2 204.2 426.4 205.4 427.7 206.5C428.9 207.6 430.6 210.7 431.4 212.7C432.2 214.7 432.9 220.6 433.9 222.8C434.8 225.0 438.1 228.9 439 230.3C439.9 231.7 440.4 233.6 441.5 234.1C442.6 234.6 446.0 233.6 447.7 234.1C449.4 234.6 453.1 236.8 455.3 237.8C457.5 238.8 462.8 241.6 465.3 242.3C467.8 243.0 472.8 243.5 475.3 243.3C477.8 243.1 482.9 241.3 485.4 240.8C487.9 240.3 492.3 239.2 495.4 239.1C498.5 239.0 507.1 240.1 510.5 240.3C514.0 240.5 521.9 239.7 523 240.8C524.1 241.9 519.2 247.5 519.3 249.1C519.4 250.7 523.4 252.1 523.5 253.8C523.6 255.5 521.5 260.5 520.5 262.5C519.5 264.5 516.8 268.8 515.5 270.1C514.2 271.4 511.8 272.8 510.5 272.6C509.2 272.4 506.1 268.5 505 268.8C503.9 269.1 502.3 272.8 501.7 275.1C501.1 277.5 500.7 284.3 500.4 287.6C500.1 290.9 499.3 299.7 499.2 301.4"/>
</g>
<g fill="none" stroke="#8dc63f" stroke-width="1.2">
<path d="M552.4 77 V120.3 H494.4 V163"/>
<path d="M601.5 369 V388.3 H631.3 V408"/>
<path d="M381 424.5 H468.9 V412"/>
</g>
<g fill="#2a6273" stroke="#d5dde0" stroke-width="1.2">
<circle cx="154.3" cy="145.8" r="6"/>
<circle cx="238" cy="182" r="6"/>
<circle cx="357.2" cy="118.4" r="6"/>
<circle cx="446.5" cy="82.4" r="6"/>
<circle cx="494.2" cy="169" r="6"/>
<circle cx="453.5" cy="120.5" r="6"/>
<circle cx="581.6" cy="136.8" r="6"/>
<circle cx="635.7" cy="178.6" r="6"/>
<circle cx="685.5" cy="177.3" r="6"/>
<circle cx="521.5" cy="198.5" r="6"/>
<circle cx="147.5" cy="247.3" r="6"/>
<circle cx="118.4" cy="328.2" r="6"/>
<circle cx="400.4" cy="331.6" r="6"/>
<circle cx="468.3" cy="406.2" r="6"/>
<circle cx="403.9" cy="272.7" r="6"/>
<circle cx="441.3" cy="370.5" r="6"/>
<circle cx="503.4" cy="369.6" r="6"/>
<circle cx="626.4" cy="313.4" r="6"/>
<circle cx="608.5" cy="344.5" r="6"/>
<circle cx="601.5" cy="363.6" r="6"/>
</g>
</svg>
<svg width="817" height="482" viewBox="0 0 817 482" font-family="Liberation Sans, sans-serif" font-weight="bold" fill="#fff" text-anchor="middle">
<defs><linearGradient id="gt" x1="0" y1="0" x2="1" y2="0.05"><stop offset="0" stop-color="#397182"/><stop offset="0.5" stop-color="#2e6576"/><stop offset="1" stop-color="#255768"/></linearGradient><filter id="gl" x="-10%" y="-15%" width="120%" height="130%"><feGaussianBlur stdDeviation="1.2"/></filter></defs>
<rect x="126.90" y="154.90" width="56.10" height="32.80" fill="#000" opacity="0.16" filter="url(#gl)"/><rect x="128.50" y="156.50" width="52.90" height="14.60" fill="url(#gt)"/><rect x="128.50" y="171.10" width="52.90" height="15.00" fill="#1f89a4"/><path d="M128.50 156.50h52.90v29.60h-52.90zM128.50 171.10h52.90" fill="none" stroke="#8dc63f" stroke-width="1.1"/><text x="153.95" y="167.00" font-size="11">1,4</text><text x="153.95" y="182.00" font-size="11">2,1</text>
<rect x="211.00" y="191.00" width="56.10" height="32.80" fill="#000" opacity="0.16" filter="url(#gl)"/><rect x="212.60" y="192.60" width="52.90" height="14.60" fill="url(#gt)"/><rect x="212.60" y="207.20" width="52.90" height="15.00" fill="#1f89a4"/><path d="M212.60 192.60h52.90v29.60h-52.90zM212.60 207.20h52.90" fill="none" stroke="#8dc63f" stroke-width="1.1"/><text x="238.05" y="203.00" font-size="11">1,3</text><text x="238.05" y="218.00" font-size="11">2,2</text>
<rect x="329.90" y="128.10" width="56.10" height="32.80" fill="#000" opacity="0.16" filter="url(#gl)"/><rect x="331.50" y="129.70" width="52.90" height="14.60" fill="url(#gt)"/><rect x="331.50" y="144.30" width="52.90" height="15.00" fill="#1f89a4"/><path d="M331.50 129.70h52.90v29.60h-52.90zM331.50 144.30h52.90" fill="none" stroke="#8dc63f" stroke-width="1.1"/><text x="356.95" y="140.00" font-size="11">1,4</text><text x="356.95" y="155.00" font-size="11">2,2</text>
<rect x="419.00" y="40.30" width="56.10" height="32.80" fill="#000" opacity="0.16" filter="url(#gl)"/><rect x="420.60" y="41.90" width="52.90" height="14.60" fill="url(#gt)"/><rect x="420.60" y="56.50" width="52.90" height="15.00" fill="#1f89a4"/><path d="M420.60 41.90h52.90v29.60h-52.90zM420.60 56.50h52.90" fill="none" stroke="#8dc63f" stroke-width="1.1"/><text x="446.05" y="52.00" font-size="11">1,6</text><text x="446.05" y="67.00" font-size="11">2,2</text>
<rect x="524.00" y="46.15" width="56.10" height="32.80" fill="#000" opacity="0.16" filter="url(#gl)"/><rect x="525.60" y="47.75" width="52.90" height="14.60" fill="url(#gt)"/><rect x="525.60" y="62.35" width="52.90" height="15.00" fill="#1f89a4"/><path d="M525.60 47.75h52.90v29.60h-52.90zM525.60 62.35h52.90" fill="none" stroke="#8dc63f" stroke-width="1.1"/><text x="551.05" y="58.00" font-size="11">1,5</text><text x="551.05" y="73.00" font-size="11">2,3</text>
<rect x="426.00" y="130.00" width="56.10" height="32.80" fill="#000" opacity="0.16" filter="url(#gl)"/><rect x="427.60" y="131.60" width="52.90" height="14.60" fill="url(#gt)"/><rect x="427.60" y="146.20" width="52.90" height="15.00" fill="#1f89a4"/><path d="M427.60 131.60h52.90v29.60h-52.90zM427.60 146.20h52.90" fill="none" stroke="#8dc63f" stroke-width="1.1"/><text x="453.05" y="142.00" font-size="11">1,4</text><text x="453.05" y="157.00" font-size="11">2,2</text>
<rect x="589.20" y="120.20" width="56.10" height="32.80" fill="#000" opacity="0.16" filter="url(#gl)"/><rect x="590.80" y="121.80" width="52.90" height="14.60" fill="url(#gt)"/><rect x="590.80" y="136.40" width="52.90" height="15.00" fill="#1f89a4"/><path d="M590.80 121.80h52.90v29.60h-52.90zM590.80 136.40h52.90" fill="none" stroke="#8dc63f" stroke-width="1.1"/><text x="616.25" y="132.00" font-size="11">2,4</text><text x="616.25" y="147.00" font-size="11">2,3</text>
<rect x="570.90" y="162.00" width="56.10" height="32.80" fill="#000" opacity="0.16" filter="url(#gl)"/><rect x="572.50" y="163.60" width="52.90" height="14.60" fill="url(#gt)"/><rect x="572.50" y="178.20" width="52.90" height="15.00" fill="#1f89a4"/><path d="M572.50 163.60h52.90v29.60h-52.90zM572.50 178.20h52.90" fill="none" stroke="#8dc63f" stroke-width="1.1"/><text x="597.95" y="174.00" font-size="11">1,5</text><text x="597.95" y="189.00" font-size="11">2,2</text>
<rect x="657.70" y="187.20" width="56.10" height="32.80" fill="#000" opacity="0.16" filter="url(#gl)"/><rect x="659.30" y="188.80" width="52.90" height="14.60" fill="url(#gt)"/><rect x="659.30" y="203.40" width="52.90" height="15.00" fill="#1f89a4"/><path d="M659.30 188.80h52.90v29.60h-52.90zM659.30 203.40h52.90" fill="none" stroke="#8dc63f" stroke-width="1.1"/><text x="684.75" y="199.00" font-size="11">1,6</text><text x="684.75" y="214.00" font-size="11">2,0</text>
<rect x="494.20" y="209.00" width="56.10" height="32.80" fill="#000" opacity="0.16" filter="url(#gl)"/><rect x="495.80" y="210.60" width="52.90" height="14.60" fill="url(#gt)"/><rect x="495.80" y="225.20" width="52.90" height="15.00" fill="#1f89a4"/><path d="M495.80 210.60h52.90v29.60h-52.90zM495.80 225.20h52.90" fill="none" stroke="#8dc63f" stroke-width="1.1"/><text x="521.25" y="221.00" font-size="11">1,6</text><text x="521.25" y="236.00" font-size="11">2,1</text>
<rect x="120.30" y="257.20" width="56.10" height="32.80" fill="#000" opacity="0.16" filter="url(#gl)"/><rect x="121.90" y="258.80" width="52.90" height="14.60" fill="url(#gt)"/><rect x="121.90" y="273.40" width="52.90" height="15.00" fill="#1f89a4"/><path d="M121.90 258.80h52.90v29.60h-52.90zM121.90 273.40h52.90" fill="none" stroke="#8dc63f" stroke-width="1.1"/><text x="147.35" y="269.00" font-size="11">1,4</text><text x="147.35" y="284.00" font-size="11">2,4</text>
<rect x="91.00" y="339.00" width="56.10" height="32.80" fill="#000" opacity="0.16" filter="url(#gl)"/><rect x="92.60" y="340.60" width="52.90" height="14.60" fill="url(#gt)"/><rect x="92.60" y="355.20" width="52.90" height="15.00" fill="#1f89a4"/><path d="M92.60 340.60h52.90v29.60h-52.90zM92.60 355.20h52.90" fill="none" stroke="#8dc63f" stroke-width="1.1"/><text x="118.05" y="351.00" font-size="11">2,1</text><text x="118.05" y="366.00" font-size="11">2,8</text>
<rect x="366.00" y="341.00" width="56.10" height="32.80" fill="#000" opacity="0.16" filter="url(#gl)"/><rect x="367.60" y="342.60" width="52.90" height="14.60" fill="url(#gt)"/><rect x="367.60" y="357.20" width="52.90" height="15.00" fill="#1f89a4"/><path d="M367.60 342.60h52.90v29.60h-52.90zM367.60 357.20h52.90" fill="none" stroke="#8dc63f" stroke-width="1.1"/><text x="393.05" y="353.00" font-size="11">1,8</text><text x="393.05" y="368.00" font-size="11">2,6</text>
<rect x="327.00" y="415.00" width="56.10" height="32.80" fill="#000" opacity="0.16" filter="url(#gl)"/><rect x="328.60" y="416.60" width="52.90" height="14.60" fill="url(#gt)"/><rect x="328.60" y="431.20" width="52.90" height="15.00" fill="#1f89a4"/><path d="M328.60 416.60h52.90v29.60h-52.90zM328.60 431.20h52.90" fill="none" stroke="#8dc63f" stroke-width="1.1"/><text x="354.05" y="427.00" font-size="11">1,5</text><text x="354.05" y="442.00" font-size="11">2,3</text>
<rect x="414.00" y="256.20" width="56.10" height="32.80" fill="#000" opacity="0.16" filter="url(#gl)"/><rect x="415.60" y="257.80" width="52.90" height="14.60" fill="url(#gt)"/><rect x="415.60" y="272.40" width="52.90" height="15.00" fill="#1f89a4"/><path d="M415.60 257.80h52.90v29.60h-52.90zM415.60 272.40h52.90" fill="none" stroke="#8dc63f" stroke-width="1.1"/><text x="441.05" y="268.00" font-size="11">1,5</text><text x="441.05" y="283.00" font-size="11">2,0</text>
<rect x="422.00" y="328.00" width="56.10" height="32.80" fill="#000" opacity="0.16" filter="url(#gl)"/><rect x="423.60" y="329.60" width="52.90" height="14.60" fill="url(#gt)"/><rect x="423.60" y="344.20" width="52.90" height="15.00" fill="#1f89a4"/><path d="M423.60 329.60h52.90v29.60h-52.90zM423.60 344.20h52.90" fill="none" stroke="#8dc63f" stroke-width="1.1"/><text x="449.05" y="340.00" font-size="11">1,9</text><text x="449.05" y="355.00" font-size="11">2,0</text>
<rect x="476.20" y="379.40" width="56.10" height="32.80" fill="#000" opacity="0.16" filter="url(#gl)"/><rect x="477.80" y="381.00" width="52.90" height="14.60" fill="url(#gt)"/><rect x="477.80" y="395.60" width="52.90" height="15.00" fill="#1f89a4"/><path d="M477.80 381.00h52.90v29.60h-52.90zM477.80 395.60h52.90" fill="none" stroke="#8dc63f" stroke-width="1.1"/><text x="503.25" y="391.00" font-size="11">1,4</text><text x="503.25" y="406.00" font-size="11">2,3</text>
<rect x="635.00" y="296.20" width="56.10" height="32.80" fill="#000" opacity="0.16" filter="url(#gl)"/><rect x="636.60" y="297.80" width="52.90" height="14.60" fill="url(#gt)"/><rect x="636.60" y="312.40" width="52.90" height="15.00" fill="#1f89a4"/><path d="M636.60 297.80h52.90v29.60h-52.90zM636.60 312.40h52.90" fill="none" stroke="#8dc63f" stroke-width="1.1"/><text x="662.05" y="308.00" font-size="11">1,5</text><text x="662.05" y="323.00" font-size="11">2,3</text>
<rect x="617.00" y="331.00" width="56.10" height="32.80" fill="#000" opacity="0.16" filter="url(#gl)"/><rect x="618.60" y="332.60" width="52.90" height="14.60" fill="url(#gt)"/><rect x="618.60" y="347.20" width="52.90" height="15.00" fill="#1f89a4"/><path d="M618.60 332.60h52.90v29.60h-52.90zM618.60 347.20h52.90" fill="none" stroke="#8dc63f" stroke-width="1.1"/><text x="644.05" y="343.00" font-size="11">1,7</text><text x="644.05" y="358.00" font-size="11">2,5</text>
<rect x="603.10" y="406.30" width="56.10" height="32.80" fill="#000" opacity="0.16" filter="url(#gl)"/><rect x="604.70" y="407.90" width="52.90" height="14.60" fill="url(#gt)"/><rect x="604.70" y="422.50" width="52.90" height="15.00" fill="#1f89a4"/><path d="M604.70 407.90h52.90v29.60h-52.90zM604.70 422.50h52.90" fill="none" stroke="#8dc63f" stroke-width="1.1"/><text x="630.15" y="418.00" font-size="11">1,6</text><text x="630.15" y="433.00" font-size="11">2,4</text>
<rect x="109.00" y="57.00" width="78.60" height="38.80" fill="#000" opacity="0.16" filter="url(#gl)"/><rect x="110.60" y="58.60" width="75.40" height="17.60" fill="url(#gt)"/><rect x="110.60" y="76.20" width="75.40" height="18.00" fill="#1f89a4"/><path d="M110.60 58.60h75.40v35.60h-75.40zM110.60 76.20h75.40" fill="none" stroke="#8dc63f" stroke-width="1.1"/><text x="147.9" y="73.00" font-size="12.5">1,6</text><text x="147.9" y="91.00" font-size="12.5">2,3</text>
</svg>
<svg width="817" height="482" viewBox="0 0 817 482" font-family="Liberation Sans, sans-serif">
<text x="136.00" y="131.28" transform="rotate(0.02 136.00 131.28)" font-size="9" fill="#c0ccd0" textLength="37" lengthAdjust="spacingAndGlyphs" stroke="#c0ccd0" stroke-width="0.08">Уральск</text>
<text x="222.80" y="166.28" transform="rotate(0.02 222.80 166.28)" font-size="9" fill="#c0ccd0" textLength="31.5" lengthAdjust="spacingAndGlyphs" stroke="#c0ccd0" stroke-width="0.08">Актобе</text>
<text x="336.80" y="106.28" transform="rotate(0.02 336.80 106.28)" font-size="9" fill="#c0ccd0" textLength="41.6" lengthAdjust="spacingAndGlyphs" stroke="#c0ccd0" stroke-width="0.08">Костанай</text>
<text x="412.50" y="100.08" transform="rotate(0.02 412.50 100.08)" font-size="9" fill="#c0ccd0" textLength="68.2" lengthAdjust="spacingAndGlyphs" stroke="#c0ccd0" stroke-width="0.08">Петропавловск</text>
<text x="398.00" y="123.28" transform="rotate(0.02 398.00 123.28)" font-size="9" fill="#c0ccd0" textLength="42" lengthAdjust="spacingAndGlyphs" stroke="#c0ccd0" stroke-width="0.08">Кокшетау</text>
<text x="650.30" y="139.28" transform="rotate(0.02 650.30 139.28)" font-size="9" fill="#c0ccd0" textLength="44.6" lengthAdjust="spacingAndGlyphs" stroke="#c0ccd0" stroke-width="0.08">Павлодар</text>
<text x="584.00" y="210.38" transform="rotate(0.02 584.00 210.38)" font-size="9" fill="#c0ccd0" textLength="29.3" lengthAdjust="spacingAndGlyphs" stroke="#c0ccd0" stroke-width="0.08">Семей</text>
<text x="644.90" y="234.28" transform="rotate(0.02 644.90 234.28)" font-size="9" fill="#c0ccd0" textLength="81" lengthAdjust="spacingAndGlyphs" stroke="#c0ccd0" stroke-width="0.08">Усть-Каменогорск</text>
<text x="497.90" y="186.48" transform="rotate(0.02 497.90 186.48)" font-size="9" fill="#c0ccd0" textLength="46.5" lengthAdjust="spacingAndGlyphs" stroke="#c0ccd0" stroke-width="0.08">Караганда</text>
<text x="131.00" y="234.28" transform="rotate(0.02 131.00 234.28)" font-size="9" fill="#c0ccd0" textLength="33" lengthAdjust="spacingAndGlyphs" stroke="#c0ccd0" stroke-width="0.08">Атырау</text>
<text x="106.00" y="314.98" transform="rotate(0.02 106.00 314.98)" font-size="9" fill="#c0ccd0" textLength="25" lengthAdjust="spacingAndGlyphs" stroke="#c0ccd0" stroke-width="0.08">Актау</text>
<text x="334.80" y="334.78" transform="rotate(0.02 334.80 334.78)" font-size="9" fill="#c0ccd0" textLength="51.6" lengthAdjust="spacingAndGlyphs" stroke="#c0ccd0" stroke-width="0.08">Кызылорда</text>
<text x="415.80" y="250.58" transform="rotate(0.02 415.80 250.58)" font-size="9" fill="#c0ccd0" textLength="46.5" lengthAdjust="spacingAndGlyphs" stroke="#c0ccd0" stroke-width="0.08">Жезказган</text>
<text x="427.00" y="321.88" transform="rotate(0.02 427.00 321.88)" font-size="9" fill="#c0ccd0" textLength="45" lengthAdjust="spacingAndGlyphs" stroke="#c0ccd0" stroke-width="0.08">Туркестан</text>
<text x="491.00" y="357.38" transform="rotate(0.02 491.00 357.38)" font-size="9" fill="#c0ccd0" textLength="25" lengthAdjust="spacingAndGlyphs" stroke="#c0ccd0" stroke-width="0.08">Тараз</text>
<text x="557.00" y="315.88" transform="rotate(0.02 557.00 315.88)" font-size="9" fill="#c0ccd0" textLength="58.7" lengthAdjust="spacingAndGlyphs" stroke="#c0ccd0" stroke-width="0.08">Талдыкорган</text>
<text x="566.00" y="346.88" transform="rotate(0.02 566.00 346.88)" font-size="9" fill="#c0ccd0" textLength="32" lengthAdjust="spacingAndGlyphs" stroke="#c0ccd0" stroke-width="0.08">Конаев</text>
<text x="585.40" y="65.00" transform="rotate(0.02 585.40 65.00)" font-size="11.8" fill="#c5d0d3" textLength="37.9" lengthAdjust="spacingAndGlyphs" stroke="#c5d0d3" stroke-width="0.2">Астана</text>
<text x="267.00" y="434.60" transform="rotate(0.02 267.00 434.60)" font-size="11.8" fill="#c5d0d3" textLength="54" lengthAdjust="spacingAndGlyphs" stroke="#c5d0d3" stroke-width="0.2">Шымкент</text>
<text x="663.00" y="427.00" transform="rotate(0.02 663.00 427.00)" font-size="11.8" fill="#c5d0d3" textLength="43" lengthAdjust="spacingAndGlyphs" stroke="#c5d0d3" stroke-width="0.2">Алматы</text>
<text x="45.30" y="78.60" transform="rotate(0.02 45.30 78.60)" font-size="11.6" fill="#ffffff" textLength="55.9" lengthAdjust="spacingAndGlyphs" stroke="#ffffff" stroke-width="0.22">Казахстан</text>
<text x="15.00" y="21.80" transform="rotate(0.02 15.00 21.80)" font-size="12.9" fill="#8fd14f" textLength="350.7" lengthAdjust="spacingAndGlyphs" font-weight="bold">Розничные цены. Кондитерские изделия. Ноябрь 2025</text>
<rect x="372.1" y="11.5" width="1.8" height="12.8" fill="#eef3f4"/>
<text x="379.40" y="22.00" transform="rotate(0.02 379.40 22.00)" font-size="13" fill="#ffffff" textLength="41.8" lengthAdjust="spacingAndGlyphs" stroke="#fff" stroke-width="0.3">тг за кг</text>
<rect x="7.4" y="415.3" width="14" height="14.4" fill="url(#gt2)" stroke="#8dc63f" stroke-width="1"/>
<rect x="7.4" y="433.3" width="14" height="14.4" fill="#1f89a4" stroke="#8dc63f" stroke-width="1"/>
<defs><linearGradient id="gt2" x1="0" y1="0" x2="1" y2="0.3"><stop offset="0" stop-color="#397182"/><stop offset="1" stop-color="#255768"/></linearGradient></defs>
<text x="26.40" y="426.80" transform="rotate(0.02 26.40 426.80)" font-size="11.4" fill="#ffffff" textLength="50.5" lengthAdjust="spacingAndGlyphs" stroke="#fff" stroke-width="0.3">Карамель</text>
<text x="26.40" y="444.90" transform="rotate(0.02 26.40 444.90)" font-size="11.4" fill="#ffffff" textLength="202" lengthAdjust="spacingAndGlyphs" stroke="#fff" stroke-width="0.3">Конфеты неглазированные шоколадом</text>
<text x="9.00" y="472.90" transform="rotate(0.02 9.00 472.90)" font-size="10.9" fill="#8fd14f" textLength="285.5" lengthAdjust="spacingAndGlyphs" font-style="italic" stroke="#8fd14f" stroke-width="0.3">Источник: Бюро национальной статистики АСПиР РК</text>
<g transform="translate(727 458)" fill="#f2f6f7"><path d="M8 3H17.6L16.3 6.9Q10 6.6 4.5 7.6Q5.2 4.2 8 3Z"/><path d="M4.3 8.4Q10 7.4 15.6 7.8L14.5 11.6Q8.5 11.4 3.1 12.6Z"/><path d="M2.9 13.3Q8.5 12.2 14.4 12.4L13.2 16.8Q7 16.4 2 18.2Z"/></g>
<text x="745.5" y="475" transform="rotate(0.02 745.5 475)" font-size="12" font-style="italic" fill="#f2f6f7" textLength="62.2" lengthAdjust="spacingAndGlyphs"><tspan font-weight="bold">Energy</tspan><tspan fill="#c3d0d4">Prom</tspan></text>
</svg>
</body></html>
